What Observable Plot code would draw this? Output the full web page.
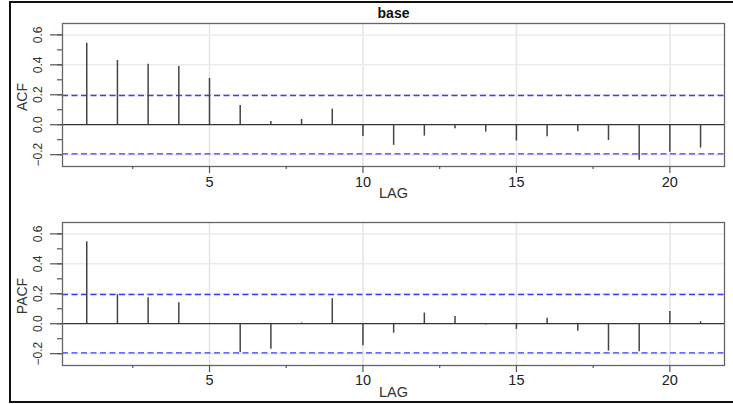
<!DOCTYPE html>
<html>
<head>
<meta charset="utf-8">
<script src="https://cdn.jsdelivr.net/npm/d3@7"></script>
<script src="https://cdn.jsdelivr.net/npm/@observablehq/plot@0.6"></script>
<style>
  html, body { margin: 0; padding: 0; background: #fff; overflow: hidden; }
  #wrap { position: relative; width: 733px; height: 404px; font-family: "Liberation Sans", Arial, sans-serif; }
  #border { position: absolute; left: 9px; top: 1px; width: 800px; height: 398px; border: 2px solid #111; box-sizing: content-box; }
  #charts { position: absolute; left: 0; top: 0; }
  #charts svg { display: block; background: transparent; }
</style>
</head>
<body>
<div id="wrap">
  <div id="border"></div>
  <div id="charts"></div>
</div>
<script>
const title = "base";
const xLabel = "LAG";
const lags = [1, 2, 3, 4, 5, 6, 7, 8, 9, 10, 11, 12, 13, 14, 15, 16, 17, 18, 19, 20, 21];
const acfValues = [0.544, 0.429, 0.404, 0.389, 0.309, 0.129, 0.022, 0.035, 0.104, -0.078, -0.138, -0.076, -0.027, -0.049, -0.109, -0.080, -0.047, -0.105, -0.238, -0.183, -0.156];
const pacfValues = [0.547, 0.194, 0.174, 0.140, 0.002, -0.194, -0.170, 0.005, 0.167, -0.147, -0.063, 0.071, 0.049, -0.008, -0.038, 0.037, -0.050, -0.183, -0.188, 0.082, 0.013];
const ciBound = 0.195;
const xTicks = [5, 10, 15, 20];
const xMinorTicks = [2.5, 7.5, 12.5, 17.5];
const yLabelTicks = [-0.2, 0.0, 0.2, 0.4, 0.6];
const yAllTicks = [-0.2, -0.1, 0.0, 0.1, 0.2, 0.3, 0.4, 0.5, 0.6];
const yGrid = [-0.2, 0.2, 0.4, 0.6];

const fmt = d3.format(".1f");

function panel(values, yName, opts) {
  const data = lags.map((lag, i) => ({lag, value: values[i]}));
  const axisStyle = {tickFormat: () => "", label: null, stroke: "#555", strokeWidth: 1.2};
  const marks = [
    Plot.gridX(xTicks, {stroke: "#e4e4e4", strokeOpacity: 1, strokeWidth: 1.5}),
    Plot.gridY(yGrid, {stroke: "#ebebeb", strokeOpacity: 1, strokeWidth: 1.5}),
    Plot.ruleY([ciBound, -ciBound], {stroke: "#3b3bff", strokeWidth: 1.3, strokeDasharray: "6,3.5"}),
    Plot.ruleY([0], {stroke: "#333", strokeWidth: 1.3}),
    Plot.ruleX(data, {x: "lag", y1: 0, y2: "value", stroke: "#444", strokeWidth: 1.5}),
    Plot.frame({stroke: "#666", strokeWidth: 1.3}),
    Plot.axisX(xTicks, {...axisStyle, tickSize: 7}),
    Plot.axisX(xMinorTicks, {...axisStyle, tickSize: 3}),
    Plot.axisY(yAllTicks, {...axisStyle, tickSize: 5}),
    Plot.axisY(yLabelTicks, {...axisStyle, tickSize: 12}),
    Plot.text(yLabelTicks, {y: d => d, text: d => fmt(d), frameAnchor: "left", lineAnchor: "middle", dx: -24, rotate: -90, textAnchor: "middle", fontSize: 12, fill: "#333"}),
    Plot.text(xTicks, {x: d => d, text: d => String(d), frameAnchor: "bottom", lineAnchor: "middle", dy: opts.tickDy, textAnchor: "middle", fontSize: 14.5, fill: "#222"}),
    Plot.text([xLabel], {frameAnchor: "bottom", lineAnchor: "middle", dy: opts.labelDy, textAnchor: "middle", fontSize: 14.5, fill: "#333"}),
    Plot.text([yName], {frameAnchor: "left", lineAnchor: "middle", dx: -40, dy: 2, rotate: -90, textAnchor: "middle", fontSize: 14, fill: "#333"})
  ];
  if (opts.title) {
    marks.push(Plot.text([opts.title], {frameAnchor: "top", lineAnchor: "middle", dy: -10, textAnchor: "middle", fontSize: 14, fontWeight: "bold", fill: "#111"}));
  }
  return Plot.plot({
    width: 733,
    height: opts.height,
    marginTop: opts.marginTop,
    marginBottom: opts.marginBottom,
    marginLeft: 62,
    marginRight: 9,
    style: {fontFamily: "'Liberation Sans', Arial, sans-serif", background: "transparent", overflow: "visible"},
    x: {domain: [0.21, 21.78], axis: null, label: null},
    y: {domain: [-0.279, 0.676], axis: null, label: null},
    marks
  });
}

const acfChart = panel(acfValues, "ACF", {height: 200, marginTop: 23, marginBottom: 34, tickDy: 16, labelDy: 27, title});
const pacfChart = panel(pacfValues, "PACF", {height: 204, marginTop: 22, marginBottom: 39, tickDy: 15, labelDy: 27});
const c = document.getElementById("charts");
c.appendChild(acfChart);
c.appendChild(pacfChart);
</script>
</body>
</html>
